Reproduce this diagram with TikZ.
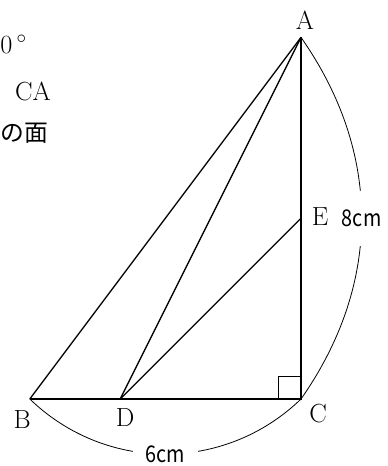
\documentclass[tikz,border=0pt]{standalone}
\usepackage{fontspec}
\newfontfamily\jpfont{Noto Sans CJK JP}
\newfontfamily\jpcond[FakeStretch=0.86]{Noto Sans CJK JP}
\usetikzlibrary{calc,positioning}

\tikzset{
	edge thick/.style={line width=1.3pt},
	edge thin/.style={line width=0.8pt},
	dim arc/.style={line width=0.5pt},
	ptlabel/.style={inner sep=0pt, font=\fontsize{16.5}{19}\selectfont},
	dimlabel/.style={fill=white, inner sep=2.5pt, font=\jpcond\fontsize{14.5}{17}\selectfont},
	cuttext/.style={inner sep=0pt, font=\fontsize{16.5}{19}\selectfont},
}

\begin{document}
\begin{tikzpicture}
		\useasboundingbox (-6.659,-1.482) rectangle (1.903,8.827);
		
		%------------------------------------------------
		% Vertices
		%------------------------------------------------
		\coordinate (A) at ( 0, 8);
		\coordinate (B) at (-6, 0);
		\coordinate (C) at ( 0, 0);
		\coordinate (D) at (-4, 0);
		\coordinate (E) at ( 0, 4);
		
		%------------------------------------------------
		% Triangle and inner segments
		%------------------------------------------------
		\draw[edge thin] (B) -- (A);
		\draw[edge thin] (D) -- (A);
		\draw[edge thin] (D) -- (E);
		\draw[edge thick] (B) -- (C) -- (A);
		
		% right angle at C
		\draw[dim arc] ($(C)+(-0.5,0)$) -- ++(0,0.5) -- ++(0.5,0);
		
		%------------------------------------------------
		% Lengths
		%------------------------------------------------
		\draw[dim arc] (A) to[bend left=35] node[dimlabel, inner ysep=12pt] (lenAC) {8cm} (C);
		\draw[dim arc] (B) to[bend right=44] node[dimlabel, inner xsep=8pt] (lenBC) {6cm} (C);
		
		%------------------------------------------------
		% Labels
		%------------------------------------------------
		\node[ptlabel] (labA) at ( 0.09, 8.38) {A};
		\node[ptlabel] (labB) at (-6.17,-0.46) {B};
		\node[ptlabel] (labC) at ( 0.38,-0.33) {C};
		\node[ptlabel] (labD) at (-3.89,-0.42) {D};
		\node[ptlabel] (labE) at ( 0.42, 4.03) {E};
		
		%------------------------------------------------
		% Text cut at the left edge
		%------------------------------------------------
		\node[cuttext, anchor=west] (txt1) at (-6.659, 7.85) {0\,$^{\circ}$};
		\node[cuttext] (txt2) at (-5.93, 6.81) {CA};
		\node[cuttext, font=\jpfont\fontsize{15}{18}\selectfont, anchor=west] (txt3) at (-6.66, 5.88) {の面};
		
	\end{tikzpicture}
\end{document}
